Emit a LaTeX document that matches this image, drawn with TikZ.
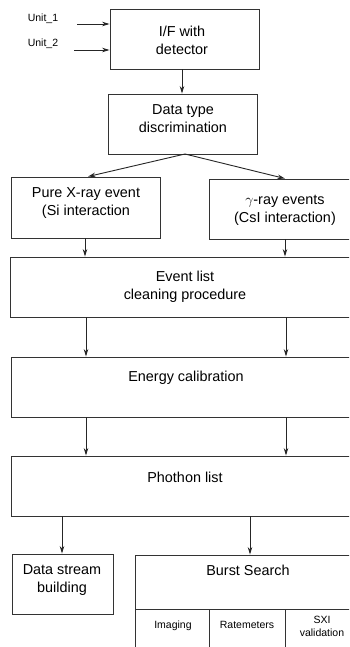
\documentclass[tikz,border=0pt]{standalone}
\usepackage{fontspec}
\setmainfont{Liberation Sans}
\usetikzlibrary{arrows.meta}
\begin{document}
\begin{tikzpicture}[x=1pt,y=-1pt,
  box/.style={draw=black!80,line width=0.9pt,inner sep=0pt},
  txt/.style={align=center,inner sep=0pt,font=\fontsize{14.4}{18}\selectfont},
  small/.style={align=center,inner sep=0pt,font=\fontsize{10.5}{13}\selectfont},
  arr/.style={draw=black!85,line width=0.9pt,-{Stealth[length=7.5pt,width=4.5pt]}}]
\clip (0,0) rectangle (349,647);
\fill[white] (0,0) rectangle (349,647);
% boxes
\node[box,minimum width=149pt,minimum height=60pt] (ifd) at (184.5,39) {};
\node[box,minimum width=149pt,minimum height=60pt] (dtd) at (182.5,124) {};
\node[box,minimum width=149pt,minimum height=61pt] (pxr) at (85.5,207.5) {};
\node[box,minimum width=152pt,minimum height=60pt] (gam) at (285,209) {};
\node[box,minimum width=351pt,minimum height=60pt] (evl) at (185.5,287) {};
\node[box,minimum width=350pt,minimum height=60pt] (ecal) at (186,387) {};
\node[box,minimum width=350pt,minimum height=60pt] (phl) at (186,486) {};
\node[box,minimum width=101pt,minimum height=60pt] (dsb) at (62.5,584) {};
\node[box,minimum width=226pt,minimum height=110pt] (bst) at (248,610) {};
\coordinate (c1) at (135,609);
\coordinate (c2) at (209,609);
\coordinate (c3) at (285,609);
\coordinate (c4) at (361,609);
\draw[draw=black!80,line width=0.9pt] (c1) -- (c4) (c2) -- (c2 |- bst.south) (c3) -- (c3 |- bst.south);
% texts
\node[small] (t1) at (43,19) {Unit\_1};
\node[small] (t2) at (43,44) {Unit\_2};
\node[txt] (tifd) at (182,40) {I/F with\\detector};
\node[txt] (tdtd) at (183,119) {Data type\\discrimination};
\node[txt] (tpxr) at (86,203) {Pure X-ray event\\(Si interaction};
\node[txt] (tgam) at (285,210) {$\gamma$-ray events\\(CsI interaction)};
\node[txt] (tevl) at (185,287) {Event list\\cleaning procedure};
\node[txt] (tecal) at (186,378) {Energy calibration};
\node[txt] (tphl) at (185,477) {Phothon list};
\node[txt] (tdsb) at (62,580) {Data stream\\building};
\node[txt] (tbst) at (248,570) {Burst Search};
\node[small] (tim) at (173,626) {Imaging};
\node[small] (trm) at (247,625) {Ratemeters};
\node[small] (tsx) at (322,626) {SXI\\validation};
% connectors
\coordinate (u1) at (77,24);
\coordinate (u2) at (74,50);
\draw[arr] (u1) -- (u1 -| ifd.west);
\draw[arr] (u2) -- (u2 -| ifd.west);
\coordinate (xa) at (182,0);
\draw[arr] (ifd.south -| xa) -- (dtd.north -| xa);
\coordinate (d0) at (185,154);
\coordinate (xl) at (88,0);
\coordinate (xr) at (285,0);
\draw[arr] (d0) -- (pxr.north -| xl);
\draw[arr] (d0) -- (gam.north -| xr);
\coordinate (xb) at (85,0);
\draw[arr] (pxr.south -| xb) -- (evl.north -| xb);
\draw[arr] (gam.south -| xr) -- (evl.north -| xr);
\coordinate (xc) at (86,0);
\coordinate (xd) at (286,0);
\draw[arr] (evl.south -| xc) -- (ecal.north -| xc);
\draw[arr] (evl.south -| xd) -- (ecal.north -| xd);
\draw[arr] (ecal.south -| xc) -- (phl.north -| xc);
\draw[arr] (ecal.south -| xd) -- (phl.north -| xd);
\coordinate (xe) at (62,0);
\coordinate (xf) at (250,0);
\draw[arr] (phl.south -| xe) -- (dsb.north -| xe);
\draw[arr] (phl.south -| xf) -- (bst.north -| xf);
\end{tikzpicture}
\end{document}
